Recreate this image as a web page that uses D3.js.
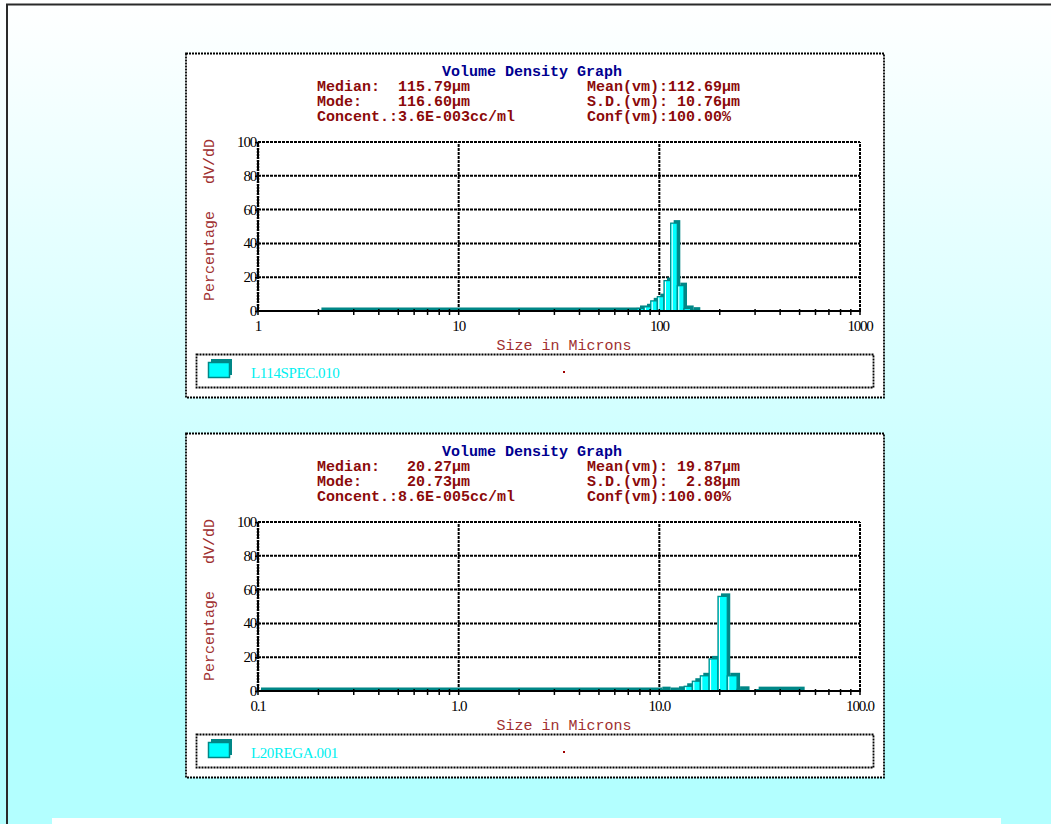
<!DOCTYPE html>
<html><head><meta charset="utf-8">
<script src="https://cdn.jsdelivr.net/npm/d3@7"></script>
<style>html,body{margin:0;padding:0;overflow:hidden;background:#fff}</style>
</head><body>
<svg id="c" width="1051" height="824"></svg>
<script>
// ---------- data ----------
const topBinEdges = [2, 77.4, 83.9, 90.6, 97.7, 105.5, 113.9, 122.9, 132.7, 143.3, 154.6];
const topBinValues = [0.3, 1.5, 2.5, 6, 8.5, 18, 52, 15, 1.5, 0.5];
const botBinEdges = [0.1, 10.0, 11.0, 12.1, 13.3, 14.6, 16.0, 17.7, 19.6, 21.8, 24.4, 27.2, 30.2, 51.2];
const botBinValues = [0.3, 0.8, 0.3, 1, 2.8, 5.8, 9, 19, 56, 9, 1, 0, 0.8];
const topXTicks = [1, 10, 100, 1000];
const topXLabels = ["1", "10", "100", "1000"];
const botXTicks = [0.1, 1, 10, 100];
const botXLabels = ["0.1", "1.0", "10.0", "100.0"];
const yTicks = [0, 20, 40, 60, 80, 100];
const titleText = "Volume Density Graph";
const topStatsLeft = ["Median:  115.79µm", "Mode:    116.60µm", "Concent.:3.6E-003cc/ml"];
const topStatsRight = ["Mean(vm):112.69µm", "S.D.(vm): 10.76µm", "Conf(vm):100.00%"];
const botStatsLeft = ["Median:   20.27µm", "Mode:     20.73µm", "Concent.:8.6E-005cc/ml"];
const botStatsRight = ["Mean(vm): 19.87µm", "S.D.(vm):  2.88µm", "Conf(vm):100.00%"];
const topLegend = "L114SPEC.010";
const botLegend = "L20REGA.001";
const xAxisTitle = "Size in Microns";
const yAxisTitle = "Percentage   dV/dD";

// ---------- drawing ----------
const svg = d3.select("#c");
const defs = svg.append("defs");
const grad = defs.append("linearGradient").attr("id", "bg")
  .attr("gradientUnits", "userSpaceOnUse").attr("x1", 0).attr("y1", 0).attr("x2", 0).attr("y2", 700);
grad.append("stop").attr("offset", "0%").attr("stop-color", "#ffffff");
grad.append("stop").attr("offset", "100%").attr("stop-color", "#b3ffff");
svg.append("rect").attr("x", 0).attr("y", 0).attr("width", 1051).attr("height", 824).attr("fill", "url(#bg)");
// outer frame
svg.append("path").attr("d", "M7,824 L7,4.5 L1051,4.5").attr("fill", "none").attr("stroke", "#2a2a2a").attr("stroke-width", 2);
// white strip at bottom
svg.append("rect").attr("x", 52).attr("y", 818).attr("width", 949).attr("height", 6).attr("fill", "#ffffff");

const MONO = "'Liberation Mono','Courier New',monospace";
const SERIF = "'Liberation Serif','Times New Roman',serif";
const DOT = "2,1";
const TEAL = "#008787";

function panel(oy, edges, values, domain, ticks, labels, statsL, statsR, legendName) {
  const g = svg.append("g").attr("transform", `translate(0,${oy})`);
  // panel box
  g.append("rect").attr("x", 186).attr("y", 53.5).attr("width", 698).attr("height", 344)
    .attr("fill", "#fff").attr("stroke", "#000").attr("stroke-width", 1.8).attr("stroke-dasharray", DOT);

  const x = d3.scaleLog().domain(domain).range([258, 860]);
  const y = d3.scaleLinear().domain([0, 100]).range([311, 142]);

  // title + stats
  g.append("text").attr("x", 532).attr("y", 76).attr("text-anchor", "middle")
    .attr("font-family", MONO).attr("font-weight", "bold").attr("font-size", 15)
    .attr("fill", "#000090").text(titleText);
  statsL.forEach((s, i) => g.append("text").attr("x", 317).attr("y", 91 + 15 * i)
    .attr("font-family", MONO).attr("font-weight", "bold").attr("font-size", 15)
    .attr("fill", "#8b0a0a").style("white-space", "pre").text(s));
  statsR.forEach((s, i) => g.append("text").attr("x", 587).attr("y", 91 + 15 * i)
    .attr("font-family", MONO).attr("font-weight", "bold").attr("font-size", 15)
    .attr("fill", "#8b0a0a").style("white-space", "pre").text(s));

  // gridlines
  const grid = g.append("g").attr("stroke", "#000").attr("stroke-width", 2).attr("stroke-dasharray", "3,1").attr("fill", "none");
  yTicks.filter(v => v > 0).forEach(v => grid.append("line")
    .attr("x1", x(domain[0])).attr("x2", x(domain[1])).attr("y1", y(v)).attr("y2", y(v)));
  ticks.forEach(v => grid.append("line")
    .attr("x1", x(v)).attr("x2", x(v)).attr("y1", y(0)).attr("y2", y(100)));

  // bars (3-D look: dark depth block offset up-right, cyan face in front)
  const bars = g.append("g");
  const base = y(0);
  values.forEach((v, i) => {
    if (v <= 0) return;
    const x0 = x(edges[i]), x1 = x(edges[i + 1]), y0 = y(v);
    const w = x1 - x0, h = base - y0;
    bars.append("rect").attr("x", x0 + 3).attr("y", y0 - 3).attr("width", w).attr("height", h + 3)
      .attr("fill", TEAL);
    bars.append("rect").attr("x", x0).attr("y", y0).attr("width", w).attr("height", h)
      .attr("fill", "#00ffff").attr("stroke", TEAL).attr("stroke-width", 1.2);
    if (h > 4) bars.append("line").attr("x1", x0 + 1.5).attr("x2", x0 + 1.5).attr("y1", y0 + 1).attr("y2", base)
      .attr("stroke", "#ffffff").attr("stroke-width", 1);
  });

  // y axis
  g.append("line").attr("x1", 258).attr("x2", 258).attr("y1", base + 1).attr("y2", y(100))
    .attr("stroke", "#000").attr("stroke-width", 2.5).attr("stroke-dasharray", DOT);
  const yAx = g.append("g").attr("transform", "translate(258,0)")
    .call(d3.axisLeft(y).tickValues(yTicks).tickSize(3).tickFormat(d3.format("d")));
  yAx.select(".domain").remove();
  yAx.selectAll("line").attr("stroke", "#000").attr("stroke-width", 1.5);
  yAx.selectAll("text").attr("font-family", SERIF).attr("font-size", 15).attr("letter-spacing", -1.2)
    .attr("fill", "#000").attr("x", -2).attr("dy", "0.3em");

  // x axis
  g.append("line").attr("x1", 257).attr("x2", 861).attr("y1", base).attr("y2", base)
    .attr("stroke", "#000").attr("stroke-width", 2);
  const minor = [];
  for (let d = 0; d < ticks.length - 1; d++) {
    [2, 3, 4, 5, 6, 7, 8, 9].forEach(m => minor.push(ticks[d] * m));
  }
  minor.concat(ticks).forEach(v => g.append("line").attr("x1", x(v)).attr("x2", x(v))
    .attr("y1", base - 2).attr("y2", base + 4).attr("stroke", "#000").attr("stroke-width", 1.5));
  ticks.forEach((v, i) => g.append("text").attr("x", x(v)).attr("y", 331).attr("text-anchor", "middle")
    .attr("font-family", SERIF).attr("font-size", 15).attr("letter-spacing", -1.2).attr("fill", "#000").text(labels[i]));

  // axis titles
  g.append("text").attr("x", 564).attr("y", 349.5).attr("text-anchor", "middle")
    .attr("font-family", MONO).attr("font-size", 15).attr("fill", "#a03030").text(xAxisTitle);
  g.append("text").attr("transform", "translate(214,220) rotate(-90)").attr("text-anchor", "middle")
    .attr("font-family", MONO).attr("font-size", 15).attr("fill", "#a03030")
    .style("white-space", "pre").text(yAxisTitle);

  // legend
  g.append("rect").attr("x", 196.5).attr("y", 354.5).attr("width", 677).attr("height", 33)
    .attr("fill", "#fff").attr("stroke", "#000").attr("stroke-width", 1.8).attr("stroke-dasharray", DOT);
  g.append("rect").attr("x", 211).attr("y", 359).attr("width", 21).attr("height", 16).attr("fill", TEAL);
  g.append("rect").attr("x", 208.5).attr("y", 362.5).attr("width", 21).attr("height", 15)
    .attr("fill", "#00ffff").attr("stroke", TEAL).attr("stroke-width", 1.5);
  g.append("text").attr("x", 251).attr("y", 378).attr("font-family", SERIF).attr("font-size", 15)
    .attr("letter-spacing", -0.4).attr("fill", "#00f0f0").text(legendName);
  g.append("rect").attr("x", 563).attr("y", 371).attr("width", 2).attr("height", 2).attr("fill", "#a00000");
}

panel(0, topBinEdges, topBinValues, [1, 1000], topXTicks, topXLabels, topStatsLeft, topStatsRight, topLegend);
panel(380, botBinEdges, botBinValues, [0.1, 100], botXTicks, botXLabels, botStatsLeft, botStatsRight, botLegend);
</script>
</body></html>
